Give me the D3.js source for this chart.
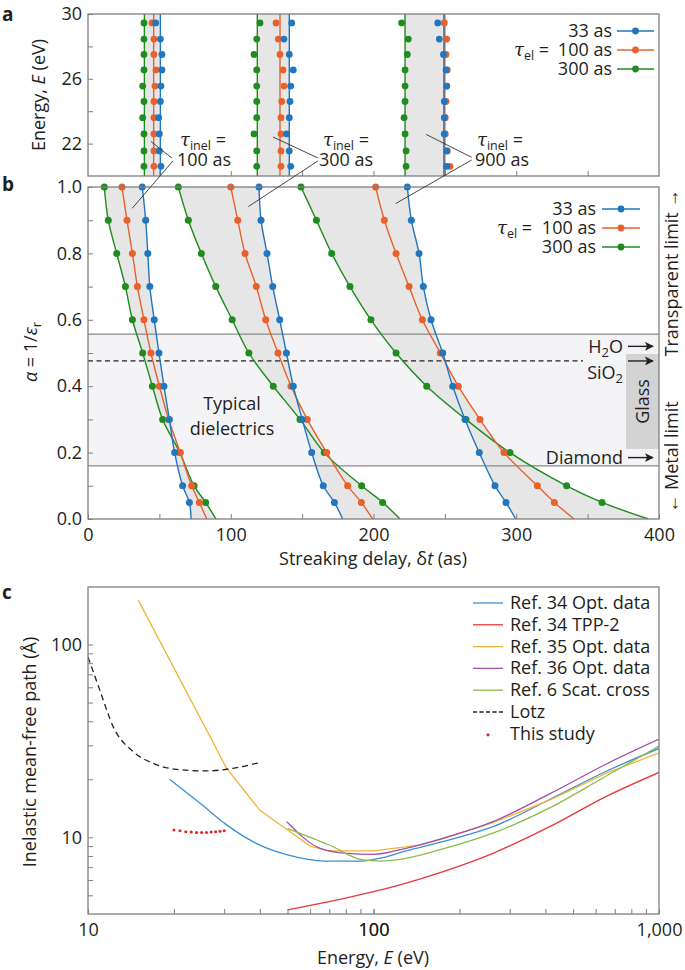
<!DOCTYPE html>
<html><head><meta charset="utf-8">
<script src="https://cdn.jsdelivr.net/npm/d3@7"></script>
<style>
body{margin:0;background:#fff;}
svg text{font-family:"Open Sans",sans-serif;fill:#231f20;}
</style></head><body>
<svg id="c" width="685" height="970"></svg>
<script>
// ================= DATA =================
const tauEl = [33, 100, 300];            // as (series)
const tauInel = [100, 300, 900];         // as (groups)
const tauElLabels = ["33 as", "100 as", "300 as"];

// Panel a: energies (eV) of the points, top to bottom
const energyA = [29.45, 28.45, 27.5, 26.55, 25.55, 24.6, 23.6, 22.6, 21.55, 20.6];
// vertical line delays (order: tau_el 33, 100, 300)
const aLine_inel100 = [50.7, 46.0, 39.5];
const aLine_inel300 = [141.0, 134.5, 118.6];
const aLine_inel900 = [249.3, 250.0, 222.1];
// point delays (as)
const aDots_inel100_el33  = [47.4, 50.7, 51.8, 51.8, 51.1, 50.7, 49.5, 50.0, 50.0, 51.1];
const aDots_inel100_el100 = [44.8, 46.2, 46.2, 47.6, 46.9, 46.2, 46.2, 46.2, 46.2, 46.2];
const aDots_inel100_el300 = [39.2, 39.2, 39.2, 39.2, 38.3, 39.2, 38.3, 39.2, 39.2, 39.2];
const aDots_inel300_el33  = [142.7, 137.3, 141.0, 143.8, 142.0, 141.5, 141.0, 139.2, 141.0, 142.0];
const aDots_inel300_el100 = [131.7, 133.3, 134.5, 136.6, 137.3, 135.7, 135.2, 135.2, 135.2, 135.2];
const aDots_inel300_el300 = [120.5, 118.2, 116.3, 118.2, 118.2, 118.2, 118.2, 116.3, 118.2, 118.2];
const aDots_inel900_el33  = [245.0, 246.1, 249.0, 250.8, 251.3, 249.6, 249.6, 249.6, 251.3, 251.3];
const aDots_inel900_el100 = [249.6, 251.3, 250.8, 251.7, 251.3, 250.8, 250.3, 250.3, 251.7, 253.6];
const aDots_inel900_el300 = [219.7, 224.4, 223.7, 222.1, 222.1, 222.1, 221.4, 222.1, 222.8, 222.8];

// Panel b: alpha values (last one = curve end, no marker)
const alphaB = [1.0, 0.9, 0.8, 0.7, 0.6, 0.5, 0.4, 0.3, 0.2, 0.1, 0.05, 0.0];
const bDelay_inel100_el33  = [38.0, 40.4, 41.9, 43.3, 46.4, 49.7, 53.2, 57.0, 60.7, 66.3, 71.0, 72.2];
const bDelay_inel100_el100 = [23.8, 27.3, 31.1, 34.6, 39.2, 44.1, 50.0, 56.5, 64.7, 72.6, 78.0, 83.2];
const bDelay_inel100_el300 = [11.4, 14.2, 20.1, 26.2, 31.1, 38.3, 45.1, 52.3, 64.3, 74.3, 82.4, 89.7];
const bDelay_inel300_el33  = [119.8, 121.2, 125.4, 129.4, 134.3, 139.0, 143.8, 150.1, 156.7, 164.8, 172.6, 178.4];
const bDelay_inel300_el100 = [100.0, 104.9, 110.0, 117.9, 124.5, 133.1, 142.2, 153.6, 167.2, 181.9, 191.5, 199.4];
const bDelay_inel300_el300 = [63.3, 70.3, 79.4, 89.5, 101.0, 112.7, 129.8, 148.5, 165.5, 191.7, 206.4, 218.6];
const bDelay_inel900_el33  = [223.7, 226.5, 231.9, 234.9, 240.3, 248.5, 255.5, 264.1, 274.1, 285.1, 292.8, 299.6];
const bDelay_inel900_el100 = [201.5, 207.6, 215.8, 224.9, 234.2, 246.8, 259.4, 274.6, 291.4, 314.8, 326.7, 340.5];
const bDelay_inel900_el300 = [149.2, 160.0, 170.7, 183.5, 198.2, 215.8, 237.3, 264.8, 295.6, 335.3, 360.1, 392.5];

// Panel b reference levels (alpha)
const bandAlpha = [0.16, 0.557];
const sio2Alpha = 0.476, h2oAlpha = 0.52, diamondAlpha = 0.185;
const glassAlpha = [0.211, 0.497];

// Panel c: IMFP curves (energy eV, lambda Å)
const cE_ref34opt = [19.3, 24.7, 30.6, 40, 50, 68, 90, 110, 130, 170, 262, 414, 654, 1000];
const cL_ref34opt = [20, 15, 11.6, 9.1, 8.1, 7.53, 7.53, 7.9, 8.5, 9.4, 11.35, 15.7, 22.0, 28.9];
const cE_ref34tpp = [50, 100, 148, 262, 414, 654, 1000];
const cL_ref34tpp = [4.2, 5.22, 6.13, 8.26, 11.35, 16.3, 21.7];
const cE_ref35opt = [15, 30.6, 40, 50, 60, 70, 100, 145, 170, 262, 414, 654, 1000];
const cL_ref35opt = [170, 22.8, 13.8, 10.9, 9.0, 8.5, 8.5, 9.1, 9.7, 11.9, 15.6, 21.5, 27.4];
const cE_ref36opt = [49.7, 65, 80.6, 100, 130, 170, 262, 414, 654, 1000];
const cL_ref36opt = [12.05, 8.77, 8.26, 8.16, 8.77, 9.76, 12.05, 16.8, 24.0, 32.3];
const cE_ref6 = [50, 70, 91.8, 105, 130, 170, 262, 414, 654, 1000];
const cL_ref6 = [11.1, 9.12, 7.63, 7.53, 7.78, 8.6, 10.5, 14.2, 20.8, 29.7];
const cE_lotz = [10, 11, 12.26, 14.4, 16.9, 20.4, 26, 32.2, 39.4];
const cL_lotz = [86.3, 58, 37.4, 27.8, 24.2, 22.5, 22.1, 22.8, 24.3];
const cE_study = [20, 21, 22, 23, 24, 25, 26, 27, 28, 29, 30];
const cL_study = [10.9, 10.8, 10.7, 10.65, 10.6, 10.6, 10.6, 10.65, 10.7, 10.75, 10.8];
const cLegend = ["Ref. 34 Opt. data", "Ref. 34 TPP-2", "Ref. 35 Opt. data", "Ref. 36 Opt. data", "Ref. 6 Scat. cross", "Lotz", "This study"];

// ticks
const xTicksB = [0, 50, 100, 150, 200, 250, 300, 350, 400];
const xTicksA = [50, 100, 150, 200, 250, 300, 350];
const yTicksA = [22, 24, 26, 28, 30];
const yTicksB = [0, 0.1, 0.2, 0.3, 0.4, 0.5, 0.6, 0.7, 0.8, 0.9, 1.0];
const xTicksC = [20, 30, 40, 50, 60, 70, 80, 90, 100, 200, 300, 400, 500, 600, 700, 800, 900];
const xLabelsC = [10, 100, 1000];
const yTicksC = [5, 6, 7, 8, 9, 10, 20, 30, 40, 50, 60, 70, 80, 90, 100];

// ================= STYLE =================
const FONT = '"Open Sans", sans-serif';
const elColors = ["#2176c0", "#e8612c", "#1e8c1e"];
const cColors = ["#3a8fd4", "#e8383a", "#f2b33a", "#a24fa6", "#8cba4c", "#222", "#e52026"];
const frameColor = "#7f7f7f";
const shadeColor = "#e6e6e6";

const svg = d3.select("#c");
const xB = d3.scaleLinear().domain([0, 400]).range([88, 659]);
const yA = d3.scaleLinear().domain([20, 30]).range([176, 14]);
const yB = d3.scaleLinear().domain([0, 1]).range([519, 187]);
const xC = d3.scaleLog().domain([10, 1000]).range([88, 659]);
const yC = d3.scaleLog().domain([4, 200]).range([914, 586.5]);

function axisStyle(g) {
  g.selectAll(".domain").remove();
  g.selectAll(".tick line").attr("stroke", frameColor).attr("stroke-width", 1);
  g.selectAll(".tick text").attr("font-family", FONT).attr("font-size", "18px").attr("fill", "#231f20");
}
function frame(x0, y0, x1, y1) {
  svg.append("rect").attr("x", x0).attr("y", y0).attr("width", x1 - x0).attr("height", y1 - y0)
    .attr("fill", "none").attr("stroke", frameColor).attr("stroke-width", 1.3);
}
function tauText(x, y, sub, tail, second) {
  const t = svg.append("text").attr("x", x).attr("y", y).attr("font-size", "18px");
  t.append("tspan").text("τ").attr("font-style", "italic").attr("font-family", "DejaVu Serif, serif");
  t.append("tspan").text(sub).attr("font-size", "12.5px").attr("dy", 3.5);
  t.append("tspan").text(tail).attr("dy", -3.5);
  if (second) t.append("tspan").attr("x", second.x).attr("dy", second.dy).text(second.text);
  return t;
}
svg.append("defs").append("marker").attr("id", "ah").attr("viewBox", "0 0 10 10")
  .attr("refX", 9).attr("refY", 5).attr("markerWidth", 9).attr("markerHeight", 9)
  .attr("markerUnits", "userSpaceOnUse").attr("orient", "auto")
  .append("path").attr("d", "M0,0 L10,5 L0,10 L2.5,5 z").attr("fill", "#231f20");
function arrow(x1, x2, y) {
  svg.append("line").attr("x1", x1).attr("x2", x2).attr("y1", y).attr("y2", y)
    .attr("stroke", "#231f20").attr("stroke-width", 1.4).attr("marker-end", "url(#ah)");
}

// ================= PANEL A =================
const aGroups = [
  {lines: aLine_inel100, dots: [aDots_inel100_el33, aDots_inel100_el100, aDots_inel100_el300]},
  {lines: aLine_inel300, dots: [aDots_inel300_el33, aDots_inel300_el100, aDots_inel300_el300]},
  {lines: aLine_inel900, dots: [aDots_inel900_el33, aDots_inel900_el100, aDots_inel900_el300]}
];
const gA = svg.append("g");
aGroups.forEach(gr => {
  const lo = d3.min(gr.lines), hi = d3.max(gr.lines);
  gA.append("rect").attr("x", xB(lo)).attr("y", yA(30)).attr("width", xB(hi) - xB(lo))
    .attr("height", yA(20) - yA(30)).attr("fill", shadeColor);
});
svg.append("g").attr("transform", "translate(0,176)")
  .call(d3.axisBottom(xB).tickValues(xTicksA).tickSizeInner(-5).tickSizeOuter(0).tickFormat(""))
  .call(axisStyle);
svg.append("g").attr("transform", "translate(88,0)")
  .call(d3.axisLeft(yA).tickValues(yTicksA).tickSizeInner(-5).tickSizeOuter(0).tickPadding(6)
    .tickFormat(d => (d === 24 || d === 28) ? "" : d))
  .call(axisStyle);
aGroups.forEach(gr => {
  [2, 1, 0].forEach(s => {
    gA.append("line").attr("x1", xB(gr.lines[s])).attr("x2", xB(gr.lines[s]))
      .attr("y1", yA(30)).attr("y2", yA(20)).attr("stroke", elColors[s]).attr("stroke-width", 1.4);
  });
});
aGroups.forEach(gr => {
  [2, 1, 0].forEach(s => {
    gA.selectAll(null).data(gr.dots[s].map((t, i) => ({t, e: energyA[i]}))).enter()
      .append("circle").attr("cx", d => xB(d.t)).attr("cy", d => yA(d.e)).attr("r", 3.4)
      .attr("fill", elColors[s]);
  });
});
frame(88, 14, 659, 176);

// legend
function elLegend(rows, textEnd, lx1, lx2, tauX) {
  rows.forEach((y, i) => {
    svg.append("line").attr("x1", lx1).attr("x2", lx2).attr("y1", y).attr("y2", y)
      .attr("stroke", elColors[i]).attr("stroke-width", 1.3);
    svg.append("circle").attr("cx", (lx1 + lx2) / 2).attr("cy", y).attr("r", 3.4).attr("fill", elColors[i]);
    svg.append("text").attr("x", textEnd).attr("y", y).attr("dy", "0.33em").attr("text-anchor", "end")
      .attr("font-size", "18px").text(tauElLabels[i]);
  });
  tauText(tauX, rows[1] + 6, "el", " =");
}
elLegend([31, 50, 69], 612, 617, 654, 514);

// ================= PANEL B =================
const bGroups = [
  [bDelay_inel100_el33, bDelay_inel100_el100, bDelay_inel100_el300],
  [bDelay_inel300_el33, bDelay_inel300_el100, bDelay_inel300_el300],
  [bDelay_inel900_el33, bDelay_inel900_el100, bDelay_inel900_el300]
];
svg.append("defs").append("clipPath").attr("id", "clipB").append("rect")
  .attr("x", 88).attr("y", 187).attr("width", 571).attr("height", 332);
const gB = svg.append("g").attr("clip-path", "url(#clipB)");
gB.append("rect").attr("x", 88).attr("width", 571).attr("y", yB(bandAlpha[1]))
  .attr("height", yB(bandAlpha[0]) - yB(bandAlpha[1])).attr("fill", "#f4f4f7");
const areaB = d3.area().y(d => yB(d.a)).x0(d => xB(d.t0)).x1(d => xB(d.t1)).curve(d3.curveCatmullRom);
bGroups.forEach(ser => {
  [[0, 1], [0, 2], [1, 2]].forEach(([p, q]) => {
    const data = alphaB.map((a, i) => ({a, t0: ser[p][i], t1: ser[q][i]}));
    gB.append("path").attr("d", areaB(data)).attr("fill", shadeColor).attr("stroke", shadeColor).attr("stroke-width", 0.5);
  });
});
bandAlpha.forEach(a => {
  gB.append("line").attr("x1", 88).attr("x2", 659).attr("y1", yB(a)).attr("y2", yB(a))
    .attr("stroke", "#8a8a8a").attr("stroke-width", 1.1);
});
gB.append("line").attr("x1", 88).attr("x2", 583).attr("y1", yB(sio2Alpha)).attr("y2", yB(sio2Alpha))
  .attr("stroke", "#231f20").attr("stroke-width", 1.2).attr("stroke-dasharray", "5,3.5");
gB.append("rect").attr("x", 626).attr("width", 33).attr("y", yB(glassAlpha[1]))
  .attr("height", yB(glassAlpha[0]) - yB(glassAlpha[1])).attr("fill", "#d3d3d3");

const lineB = d3.line().x(d => xB(d.t)).y(d => yB(d.a)).curve(d3.curveCatmullRom);
bGroups.forEach(ser => {
  [2, 1, 0].forEach(s => {
    const data = alphaB.map((a, i) => ({a, t: ser[s][i]}));
    gB.append("path").attr("d", lineB(data)).attr("fill", "none").attr("stroke", elColors[s]).attr("stroke-width", 1.4);
  });
});
bGroups.forEach(ser => {
  [2, 1, 0].forEach(s => {
    const data = alphaB.map((a, i) => ({a, t: ser[s][i]})).filter(d => d.a > 0);
    svg.selectAll(null).data(data).enter().append("circle")
      .attr("cx", d => xB(d.t)).attr("cy", d => yB(d.a)).attr("r", 3.5).attr("fill", elColors[s]);
  });
});
svg.append("g").attr("transform", "translate(0,519)")
  .call(d3.axisBottom(xB).tickValues(xTicksB).tickSizeInner(-5).tickSizeOuter(0).tickPadding(9)
    .tickFormat(d => d % 100 === 0 ? d : ""))
  .call(axisStyle);
svg.append("g").attr("transform", "translate(88,0)")
  .call(d3.axisLeft(yB).tickValues(yTicksB).tickSizeInner(-5).tickSizeOuter(0).tickPadding(6)
    .tickFormat((d, i) => i % 2 === 0 ? d3.format(".1f")(d) : ""))
  .call(axisStyle);
frame(88, 187, 659, 519);
elLegend([209, 228, 247], 596, 602, 640, 497);

const td = svg.append("text").attr("x", 232).attr("y", 410).attr("text-anchor", "middle").attr("font-size", "18px");
td.append("tspan").text("Typical");
td.append("tspan").attr("x", 232).attr("dy", 25).text("dielectrics");
const h2o = svg.append("text").attr("x", 623).attr("y", yB(h2oAlpha) + 7).attr("text-anchor", "end").attr("font-size", "18px");
h2o.append("tspan").text("H"); h2o.append("tspan").text("2").attr("font-size", "13px").attr("dy", 4); h2o.append("tspan").text("O").attr("dy", -4);
arrow(628, 653, yB(h2oAlpha));
const sio2 = svg.append("text").attr("x", 623).attr("y", yB(sio2Alpha) + 18).attr("text-anchor", "end").attr("font-size", "18px");
sio2.append("tspan").text("SiO"); sio2.append("tspan").text("2").attr("font-size", "13px").attr("dy", 4);
arrow(628, 653, yB(sio2Alpha));
svg.append("text").attr("x", 623).attr("y", yB(diamondAlpha) + 6).attr("text-anchor", "end").attr("font-size", "18px").text("Diamond");
arrow(628, 653, yB(diamondAlpha));
svg.append("text").attr("transform", `translate(648.5,${(yB(glassAlpha[0]) + yB(glassAlpha[1])) / 2}) rotate(-90)`)
  .attr("text-anchor", "middle").attr("font-size", "18px").attr("fill", "#333").text("Glass");
svg.append("text").attr("transform", "translate(678,273) rotate(-90)").attr("text-anchor", "middle")
  .attr("font-size", "18px").text("Transparent limit →");
svg.append("text").attr("transform", "translate(678,457) rotate(-90)").attr("text-anchor", "middle")
  .attr("font-size", "18px").text("← Metal limit");

// callouts (tau_inel)
const callouts = [
  {lab: "100 as", tx: 180, vx: 177, a: [[58.8, 21.11], [44.1, 22.13]], b: [[59.5, 20.93], [31.0, 0.936]]},
  {lab: "300 as", tx: 323, vx: 319, a: [[161.1, 21.11], [129.6, 22.41]], b: [[161.1, 20.93], [112.3, 0.941]]},
  {lab: "900 as", tx: 477, vx: 475, a: [[268.8, 21.15], [236.8, 22.57]], b: [[268.8, 20.99], [215.5, 0.95]]}
];
callouts.forEach(c => {
  svg.append("line").attr("x1", xB(c.a[0][0])).attr("y1", yA(c.a[0][1])).attr("x2", xB(c.a[1][0])).attr("y2", yA(c.a[1][1]))
    .attr("stroke", "#333").attr("stroke-width", 0.9);
  svg.append("line").attr("x1", xB(c.b[0][0])).attr("y1", yA(c.b[0][1])).attr("x2", xB(c.b[1][0])).attr("y2", yB(c.b[1][1]))
    .attr("stroke", "#333").attr("stroke-width", 0.9);
  tauText(c.tx, 146, "inel", " =", {x: c.vx, dy: 20, text: c.lab});
});

// ================= PANEL C =================
const cSeries = [
  {e: cE_ref34opt, l: cL_ref34opt, curve: d3.curveMonotoneX},
  {e: cE_ref34tpp, l: cL_ref34tpp, curve: d3.curveMonotoneX},
  {e: cE_ref35opt, l: cL_ref35opt, curve: d3.curveLinear},
  {e: cE_ref36opt, l: cL_ref36opt, curve: d3.curveMonotoneX},
  {e: cE_ref6, l: cL_ref6, curve: d3.curveMonotoneX},
  {e: cE_lotz, l: cL_lotz, curve: d3.curveMonotoneX, dash: "6,4"}
];
svg.append("defs").append("clipPath").attr("id", "clipC").append("rect")
  .attr("x", 88).attr("y", 587).attr("width", 571).attr("height", 327);
const gC = svg.append("g").attr("clip-path", "url(#clipC)");
cSeries.forEach((s, k) => {
  const data = s.e.map((e, i) => ({e, l: s.l[i]}));
  const ln = d3.line().x(d => xC(d.e)).y(d => yC(d.l)).curve(s.curve);
  gC.append("path").attr("d", ln(data)).attr("fill", "none").attr("stroke", cColors[k])
    .attr("stroke-width", 1.3).attr("stroke-dasharray", s.dash || null);
});
gC.selectAll(null).data(cE_study.map((e, i) => ({e, l: cL_study[i]}))).enter().append("circle")
  .attr("cx", d => xC(d.e)).attr("cy", d => yC(d.l)).attr("r", 1.5).attr("fill", cColors[6]);

svg.append("g").attr("transform", "translate(0,914)")
  .call(d3.axisBottom(xC).tickValues(xTicksC.concat(xLabelsC)).tickSizeInner(-5).tickSizeOuter(0).tickPadding(9)
    .tickFormat(d => xLabelsC.includes(d) ? d3.format(",")(d) : ""))
  .call(axisStyle);
svg.append("g").attr("transform", "translate(88,0)")
  .call(d3.axisLeft(yC).tickValues(yTicksC).tickSizeInner(-5).tickSizeOuter(0).tickPadding(6)
    .tickFormat(d => (d === 10 || d === 100) ? d : ""))
  .call(axisStyle);
frame(88, 587, 659, 914);

const legY0 = 603, legDY = 21.8;
cLegend.forEach((name, i) => {
  const y = legY0 + i * legDY;
  if (i < 6) {
    svg.append("line").attr("x1", 473).attr("x2", 503).attr("y1", y).attr("y2", y)
      .attr("stroke", cColors[i]).attr("stroke-width", 1.3).attr("stroke-dasharray", i === 5 ? "4,2.5" : null);
  } else {
    svg.append("circle").attr("cx", 488).attr("cy", y + 1).attr("r", 1.6).attr("fill", cColors[6]);
  }
  svg.append("text").attr("x", 510).attr("y", y).attr("dy", "0.33em").attr("font-size", "18px").text(name);
});

// ================= AXIS TITLES & PANEL LETTERS =================
const ta = svg.append("text").attr("transform", "translate(45,95) rotate(-90)").attr("text-anchor", "middle").attr("font-size", "18px");
ta.append("tspan").text("Energy, "); ta.append("tspan").text("E").attr("font-style", "italic"); ta.append("tspan").text(" (eV)");

const tb = svg.append("text").attr("transform", "translate(37,352) rotate(-90)").attr("text-anchor", "middle").attr("font-size", "18px");
tb.append("tspan").text("α").attr("font-style", "italic"); tb.append("tspan").text(" = 1/");
tb.append("tspan").text("ε").attr("font-style", "italic"); tb.append("tspan").text("r").attr("font-size", "13px").attr("dy", 4);

const tbx = svg.append("text").attr("x", 373).attr("y", 565).attr("text-anchor", "middle").attr("font-size", "18px");
tbx.append("tspan").text("Streaking delay, δ"); tbx.append("tspan").text("t").attr("font-style", "italic"); tbx.append("tspan").text(" (as)");

svg.append("text").attr("transform", "translate(36,752) rotate(-90)").attr("text-anchor", "middle").attr("font-size", "18px")
  .text("Inelastic mean-free path (Å)");
const tcx = svg.append("text").attr("x", 373).attr("y", 964).attr("text-anchor", "middle").attr("font-size", "18px");
tcx.append("tspan").text("Energy, "); tcx.append("tspan").text("E").attr("font-style", "italic"); tcx.append("tspan").text(" (eV)");

[["a", 21], ["b", 191], ["c", 599]].forEach(([l, y]) => {
  svg.append("text").attr("x", 2).attr("y", y).attr("font-size", "19px").attr("font-weight", "bold").text(l);
});
</script></body></html>
